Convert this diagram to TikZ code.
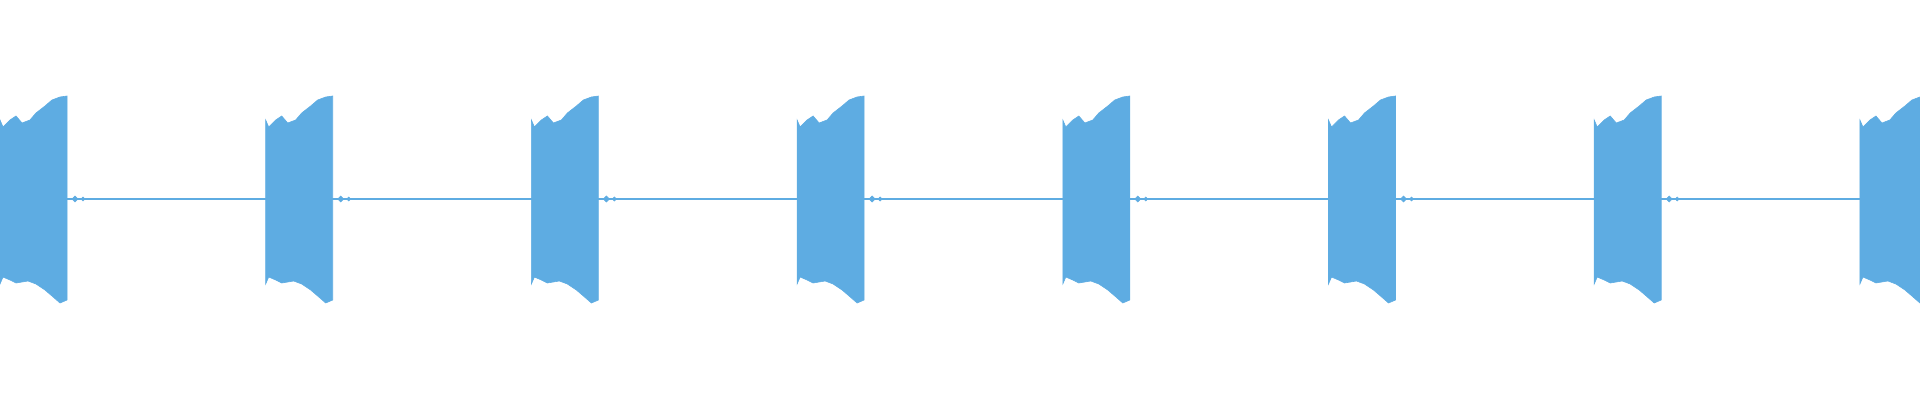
\documentclass[tikz,border=0pt]{standalone}
\definecolor{wave}{RGB}{94,172,226}
\tikzset{
    burst/.style = {fill=wave, draw=wave, line width=0.3pt},
    baseline/.style = {draw=wave, line width=0.6pt}
}
\begin{document}
\begin{tikzpicture}[x=0.5pt,y=-0.5pt]
    \useasboundingbox (0,0) rectangle (1920,400);
    \clip (0,0) rectangle (1920,400);
    % quiet line
    \draw [baseline] (0,199) -- (1920,199);
    % bursts
    \foreach \i in {0,...,7} {
        \pgfmathsetmacro{\s}{\i*265.7}
        \fill [burst] (\s,120) -- (\s+3,127) -- (\s+10,120) -- (\s+16,116)
            -- (\s+22,123) -- (\s+30,120) -- (\s+36,113) -- (\s+45,106)
            -- (\s+52,100) -- (\s+60,97) -- (\s+67,96) -- (\s+67,300)
            -- (\s+60,303) -- (\s+52,296) -- (\s+45,290) -- (\s+36,284)
            -- (\s+28,281) -- (\s+22,282) -- (\s+16,283) -- (\s+10,280)
            -- (\s+3,277) -- (\s,284) -- cycle;
        % small ripples after each burst
        \fill [burst] (\s+72,199) -- (\s+75,196) -- (\s+78,199) -- (\s+75,202) -- cycle;
        \fill [burst] (\s+81,199) -- (\s+83,197) -- (\s+85,199) -- (\s+83,201) -- cycle;
    }
\end{tikzpicture}
\end{document}
